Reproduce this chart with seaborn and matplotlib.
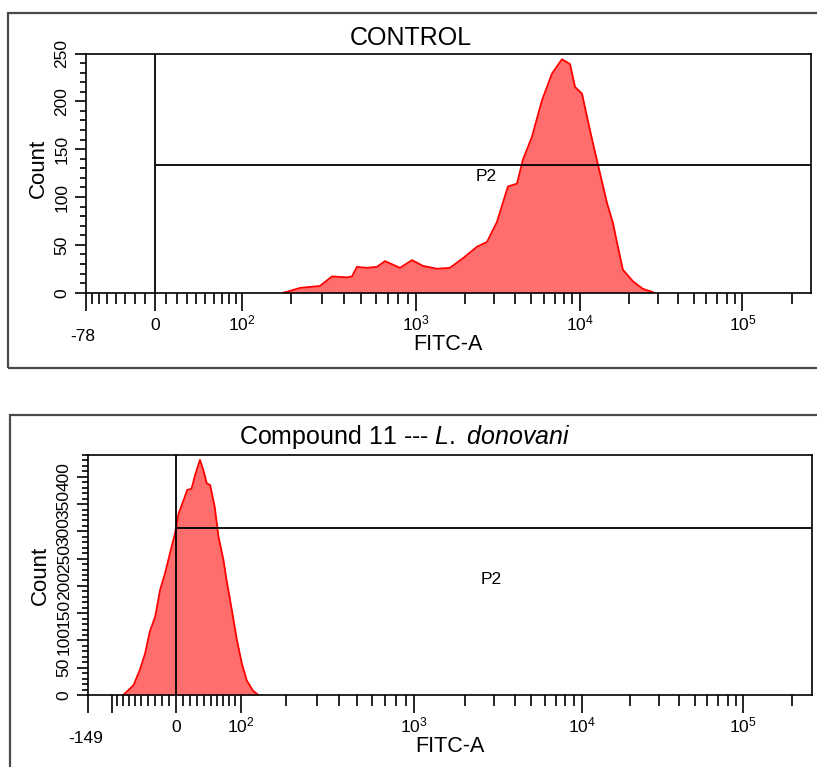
"""Flow cytometry FITC-A histograms: control vs compound 11 treated L. donovani."""

import matplotlib
matplotlib.use("Agg")
import matplotlib.pyplot as plt
import numpy as np
import seaborn as sns
from matplotlib.patches import Rectangle

# ---- data ------------------------------------------------------------------
control_fitc = [180, 190, 226, 293, 343, 415, 443, 472, 536, 609,
                675, 816, 951, 1104, 1343, 1611, 1935, 2355, 2710, 3118,
                3638, 4130, 4490, 5095, 5865, 6748, 7763, 8690, 9330, 10290,
                11040, 12020, 13270, 14650, 15940, 17110, 18360, 21150, 24370, 27670,
                28500]
control_count = [0, 1, 5, 7, 17, 16, 17, 27, 26, 27,
                 33, 26, 34, 28, 25, 26, 36, 48, 53, 74,
                 111, 114, 139, 163, 201, 229, 244, 239, 215, 208,
                 184, 156, 125, 94, 73, 48, 24, 12, 4, 1,
                 0]

compound_fitc = [-80, -76, -62, -52, -44, -37, -29, -22, -15, -8,
                 -1, 4, 10, 16, 22, 27, 34, 39, 44, 49,
                 56, 62, 70, 75, 84, 93, 102, 111, 123, 134]
compound_count = [0, 3, 18, 46, 76, 116, 144, 193, 223, 260,
                  296, 333, 354, 376, 378, 403, 431, 412, 388, 385,
                  345, 290, 247, 211, 156, 101, 58, 27, 8, 0]

# P2 interval gate (lower FITC bound, drawn at this count level)
control_gate = (0, 133)
compound_gate = (0, 307)

titles = ["CONTROL", r"Compound 11 --- $\mathit{L.\ donovani}$"]
x_min_labels = ["-78", "-149"]
x_max = 262144

FILL = "#ff6d6d"
EDGE = "#ff0000"


def biex_functions(width, anchor_vals, anchor_pos):
    """Logicle-like axis: piecewise linear in asinh(x / width) through anchors."""
    g_a = np.arcsinh(np.asarray(anchor_vals, float) / width)
    pos = np.asarray(anchor_pos, float)
    lo = (pos[1] - pos[0]) / (g_a[1] - g_a[0])
    hi = (pos[-1] - pos[-2]) / (g_a[-1] - g_a[-2])

    def forward(v):
        gv = np.arcsinh(np.asarray(v, float) / width)
        out = np.interp(gv, g_a, pos)
        out = np.where(gv < g_a[0], pos[0] + (gv - g_a[0]) * lo, out)
        return np.where(gv > g_a[-1], pos[-1] + (gv - g_a[-1]) * hi, out)

    def inverse(p):
        p = np.asarray(p, float)
        gv = np.interp(p, pos, g_a)
        gv = np.where(p < pos[0], g_a[0] + (p - pos[0]) / lo, gv)
        gv = np.where(p > pos[-1], g_a[-1] + (p - pos[-1]) / hi, gv)
        with np.errstate(over="ignore"):
            return width * np.sinh(gv)

    return forward, inverse


sns.set_style("ticks")
plt.rcParams["font.family"] = ["Liberation Sans", "DejaVu Sans"]
plt.rcParams["mathtext.fontset"] = "custom"
plt.rcParams["mathtext.rm"] = "Liberation Sans"
plt.rcParams["mathtext.it"] = "Liberation Sans:italic"
plt.rcParams["mathtext.default"] = "regular"
for key in ("text.color", "axes.labelcolor", "xtick.color", "ytick.color"):
    plt.rcParams[key] = "black"

W, H = 817, 767
fig = plt.figure(figsize=(W / 100, H / 100), dpi=100)

panels = [
    dict(rect=(86, 53.5, 810.7, 292.7), x=control_fitc, y=control_count,
         gate=control_gate, ymax=250, ymajor=250, xmin=-78, width=70,
         anchors=([-78, 0, 100, 1000, 1e4, 1e5, x_max],
                  [86, 155.5, 242, 416, 580, 742.5, 810.7]),
         neg_minor=list(range(-70, 0, 10)), neg_major=[],
         p2=(2670, 121), title_xy=(411, 38), count_dy=5),
    dict(rect=(88.3, 455, 811.7, 695), x=compound_fitc, y=compound_count,
         gate=compound_gate, ymax=440, ymajor=400, xmin=-149, width=110,
         anchors=([-149, -100, 0, 100, 1000, 1e4, 1e5, x_max],
                  [88.3, 111.7, 175.7, 240.7, 414.3, 581.7, 743.3, 811.7]),
         neg_minor=list(range(-90, 0, 10)), neg_major=[-100],
         p2=(2870, 211), title_xy=(405, 437), count_dy=0),
]

# outer panel frames
fig.add_artist(Rectangle((8 / W, 1 - 368 / H), 900 / W, 355 / H,
                         transform=fig.transFigure, fill=False,
                         lw=1.6, ec="#4a4a4a"))
fig.add_artist(Rectangle((10 / W, -0.2), 900 / W, 0.2 + 1 - 415 / H,
                         transform=fig.transFigure, fill=False,
                         lw=1.6, ec="#4a4a4a"))

for i, p in enumerate(panels):
    l, t, r, b = p["rect"]
    ax = fig.add_axes([l / W, 1 - b / H, (r - l) / W, (b - t) / H])

    ax.fill_between(p["x"], p["y"], color=FILL, lw=0)
    sns.lineplot(x=p["x"], y=p["y"], color=EDGE, lw=1.3, ax=ax,
                 estimator=None, sort=False)

    fwd, inv = biex_functions(p["width"], *p["anchors"])
    ax.set_xscale("function", functions=(fwd, inv))
    ax.set_xlim(p["xmin"], x_max)
    ax.set_ylim(0, p["ymax"])

    # gate P2
    g_lo, g_lvl = p["gate"]
    ax.axvline(g_lo, color="black", lw=1.3)
    ax.hlines(g_lvl, g_lo, x_max, color="black", lw=1.3)
    ax.text(*p["p2"], "P2", ha="center", va="center", fontsize=12.5)

    # x ticks
    majors = [p["xmin"]] + p["neg_major"] + [0, 100, 1000, 10000, 100000]
    labels = [""] * (1 + len(p["neg_major"])) + [
        "0", "$10^2$", "$10^3$", "$10^4$", "$10^5$"]
    minors = (p["neg_minor"] + list(range(10, 100, 10))
              + [m * 10 ** e for e in (2, 3, 4) for m in range(2, 10)]
              + [200000])
    ax.set_xticks(majors)
    ax.set_xticklabels(labels, va="baseline", fontsize=12.5)
    ax.set_xticks(minors, minor=True)
    ax.tick_params(axis="x", which="major", length=13, width=1.2, pad=14,
                   direction="out")
    ax.tick_params(axis="x", which="minor", length=8, width=1.2,
                   direction="out")

    # y ticks
    ax.set_yticks(list(range(0, p["ymajor"] + 1, 50)))
    ax.set_yticks(list(range(0, p["ymax"] + 1, 10)), minor=True)
    ax.tick_params(axis="y", which="major", length=8, width=1.2, pad=4,
                   labelsize=12.5, labelrotation=90, direction="out")
    ax.tick_params(axis="y", which="minor", length=4.3, width=1.2,
                   direction="out")
    for lbl in ax.get_yticklabels():
        lbl.set_va("center")

    for side in ("top", "right", "bottom", "left"):
        ax.spines[side].set_visible(True)
        ax.spines[side].set_linewidth(1.2)
        ax.spines[side].set_color("black")

    # lowest channel label sits lower than the rest
    ax.annotate(x_min_labels[i], xy=(p["xmin"], 0),
                xycoords=("data", "axes fraction"),
                xytext=(-3, -48), textcoords="offset pixels",
                ha="center", va="baseline", fontsize=12.5)
    ax.annotate("FITC-A", xy=(0.5, 0), xycoords="axes fraction",
                xytext=(0, -57), textcoords="offset pixels",
                ha="center", va="baseline", fontsize=15.5)
    ax.annotate("Count", xy=(0, 0.5), xycoords="axes fraction",
                xytext=(-48, p["count_dy"]), textcoords="offset pixels",
                ha="center", va="center", rotation=90, fontsize=16)

    tx, ty = p["title_xy"]
    fig.text(tx / W, 1 - ty / H, titles[i], ha="center", va="center",
             fontsize=18)

fig.savefig("out.png", dpi=100)
